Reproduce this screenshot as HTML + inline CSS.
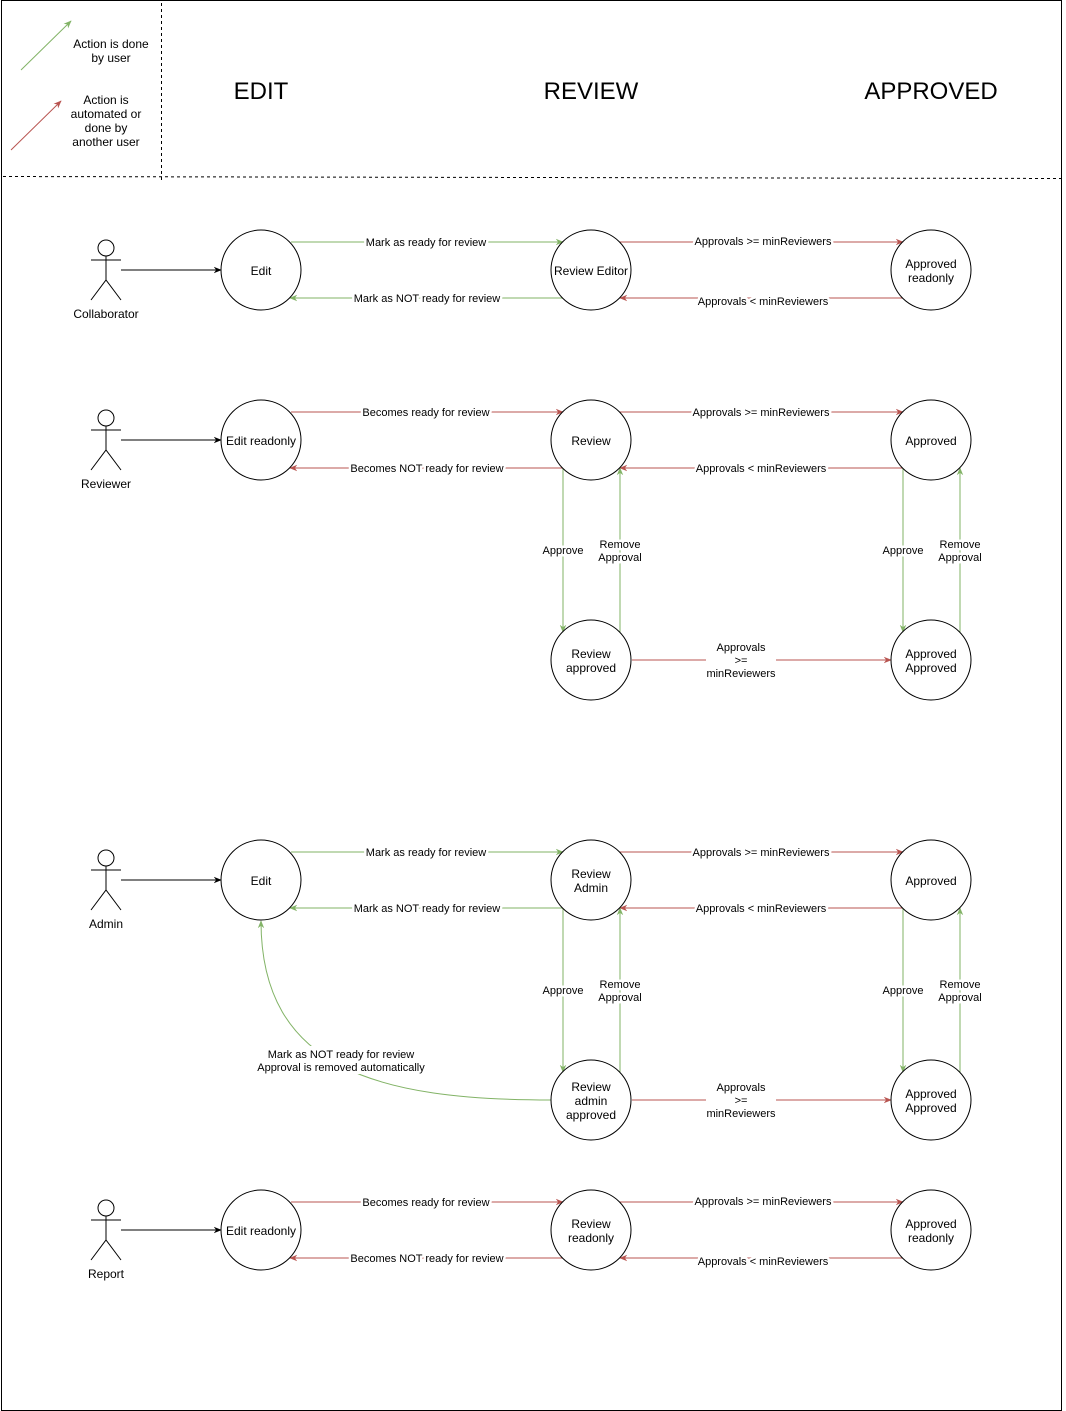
<!DOCTYPE html>
<html><head><meta charset="utf-8"><style>
html,body{margin:0;padding:0;background:#fff;}
svg{display:block;font-family:"Liberation Sans",Arial,sans-serif;}
.n{font-size:12px;fill:#000;text-anchor:middle}
.l{font-size:11px;fill:#000;text-anchor:middle;paint-order:stroke;stroke:#fff;stroke-width:5px;stroke-linejoin:round}
.g{stroke:#82b366;fill:none;stroke-width:1}
.r{stroke:#b85450;fill:none;stroke-width:1}
.c{fill:#fff;stroke:#000;stroke-width:1}
.a{stroke:#000;fill:none;stroke-width:1}
</style></head><body>
<svg width="1066" height="1411" viewBox="0 0 1066 1411" xmlns="http://www.w3.org/2000/svg">
<defs>
<marker id="mg" viewBox="0 0 10 10" refX="9" refY="5" markerWidth="8" markerHeight="8" orient="auto" markerUnits="userSpaceOnUse"><path d="M0,1 L10,5 L0,9 L3,5 z" fill="#82b366"/></marker>
<marker id="mr" viewBox="0 0 10 10" refX="9" refY="5" markerWidth="8" markerHeight="8" orient="auto" markerUnits="userSpaceOnUse"><path d="M0,1 L10,5 L0,9 L3,5 z" fill="#b85450"/></marker>
<marker id="mk" viewBox="0 0 10 10" refX="9" refY="5" markerWidth="8" markerHeight="8" orient="auto" markerUnits="userSpaceOnUse"><path d="M0,1 L10,5 L0,9 L3,5 z" fill="#000"/></marker>
</defs>
<rect x="1.5" y="0.5" width="1060" height="1410" fill="none" stroke="#000"/>
<line x1="3" y1="176.5" x2="1062" y2="178.5" stroke="#000" stroke-dasharray="3,3"/>
<line x1="161.5" y1="3" x2="161.5" y2="180" stroke="#000" stroke-dasharray="3,3"/>
<!-- legend -->
<line x1="21" y1="70" x2="71" y2="21" class="g" marker-end="url(#mg)"/>
<line x1="11" y1="150" x2="61" y2="101" class="r" marker-end="url(#mr)"/>
<text class="n" x="111" y="48">Action is done</text>
<text class="n" x="111" y="62">by user</text>
<text class="n" x="106" y="104">Action is</text>
<text class="n" x="106" y="118">automated or</text>
<text class="n" x="106" y="132">done by</text>
<text class="n" x="106" y="146">another user</text>
<text class="n" style="font-size:24px" x="261" y="99">EDIT</text>
<text class="n" style="font-size:24px" x="591" y="99">REVIEW</text>
<text class="n" style="font-size:24px" x="931" y="99">APPROVED</text>

<!-- actors -->
<g class="a">
<circle cx="106" cy="248" r="8"/><line x1="106" y1="256" x2="106" y2="280"/><line x1="91" y1="260" x2="121" y2="260"/><path d="M91,300 L106,280 L121,300"/>
<line x1="121" y1="270" x2="221" y2="270" marker-end="url(#mk)"/>
<circle cx="106" cy="418" r="8"/><line x1="106" y1="426" x2="106" y2="450"/><line x1="91" y1="430" x2="121" y2="430"/><path d="M91,470 L106,450 L121,470"/>
<line x1="121" y1="440" x2="221" y2="440" marker-end="url(#mk)"/>
<circle cx="106" cy="858" r="8"/><line x1="106" y1="866" x2="106" y2="890"/><line x1="91" y1="870" x2="121" y2="870"/><path d="M91,910 L106,890 L121,910"/>
<line x1="121" y1="880" x2="221" y2="880" marker-end="url(#mk)"/>
<circle cx="106" cy="1208" r="8"/><line x1="106" y1="1216" x2="106" y2="1240"/><line x1="91" y1="1220" x2="121" y2="1220"/><path d="M91,1260 L106,1240 L121,1260"/>
<line x1="121" y1="1230" x2="221" y2="1230" marker-end="url(#mk)"/>
</g>
<text class="n" x="106" y="318">Collaborator</text>
<text class="n" x="106" y="488">Reviewer</text>
<text class="n" x="106" y="928">Admin</text>
<text class="n" x="106" y="1278">Report</text>

<!-- Row 1 -->
<line x1="291" y1="242" x2="563" y2="242" class="g" marker-end="url(#mg)"/>
<line x1="563" y1="298" x2="290" y2="298" class="g" marker-end="url(#mg)"/>
<line x1="620" y1="242" x2="903" y2="242" class="r" marker-end="url(#mr)"/>
<line x1="903" y1="298" x2="620" y2="298" class="r" marker-end="url(#mr)"/>
<text class="l" x="426" y="246">Mark as ready for review</text>
<text class="l" x="427" y="302">Mark as NOT ready for review</text>
<text class="l" x="763" y="245">Approvals &gt;= minReviewers</text>
<text class="l" x="763" y="305">Approvals &lt; minReviewers</text>

<!-- Row 2 -->
<line x1="291" y1="412" x2="563" y2="412" class="r" marker-end="url(#mr)"/>
<line x1="563" y1="468" x2="290" y2="468" class="r" marker-end="url(#mr)"/>
<line x1="620" y1="412" x2="903" y2="412" class="r" marker-end="url(#mr)"/>
<line x1="903" y1="468" x2="620" y2="468" class="r" marker-end="url(#mr)"/>
<text class="l" x="426" y="416">Becomes ready for review</text>
<text class="l" x="427" y="472">Becomes NOT ready for review</text>
<text class="l" x="761" y="416">Approvals &gt;= minReviewers</text>
<text class="l" x="761" y="472">Approvals &lt; minReviewers</text>
<line x1="563" y1="468" x2="563" y2="632" class="g" marker-end="url(#mg)"/>
<line x1="620" y1="632" x2="620" y2="468" class="g" marker-end="url(#mg)"/>
<line x1="903" y1="468" x2="903" y2="632" class="g" marker-end="url(#mg)"/>
<line x1="960" y1="632" x2="960" y2="468" class="g" marker-end="url(#mg)"/>
<text class="l" x="563" y="554">Approve</text>
<text class="l" x="620" y="548">Remove</text><text class="l" x="620" y="561">Approval</text>
<text class="l" x="903" y="554">Approve</text>
<text class="l" x="960" y="548">Remove</text><text class="l" x="960" y="561">Approval</text>
<!-- Row 3 -->
<line x1="632" y1="660" x2="891" y2="660" class="r" marker-end="url(#mr)"/>
<rect x="706" y="638" width="70" height="42" fill="#fff"/>
<text class="l" x="741" y="651">Approvals</text><text class="l" x="741" y="664">&gt;=</text><text class="l" x="741" y="677">minReviewers</text>

<!-- Row 4 -->
<line x1="291" y1="852" x2="563" y2="852" class="g" marker-end="url(#mg)"/>
<line x1="563" y1="908" x2="290" y2="908" class="g" marker-end="url(#mg)"/>
<line x1="620" y1="852" x2="903" y2="852" class="r" marker-end="url(#mr)"/>
<line x1="903" y1="908" x2="620" y2="908" class="r" marker-end="url(#mr)"/>
<text class="l" x="426" y="856">Mark as ready for review</text>
<text class="l" x="427" y="912">Mark as NOT ready for review</text>
<text class="l" x="761" y="856">Approvals &gt;= minReviewers</text>
<text class="l" x="761" y="912">Approvals &lt; minReviewers</text>
<line x1="563" y1="908" x2="563" y2="1072" class="g" marker-end="url(#mg)"/>
<line x1="620" y1="1072" x2="620" y2="908" class="g" marker-end="url(#mg)"/>
<line x1="903" y1="908" x2="903" y2="1072" class="g" marker-end="url(#mg)"/>
<line x1="960" y1="1072" x2="960" y2="908" class="g" marker-end="url(#mg)"/>
<text class="l" x="563" y="994">Approve</text>
<text class="l" x="620" y="988">Remove</text><text class="l" x="620" y="1001">Approval</text>
<text class="l" x="903" y="994">Approve</text>
<text class="l" x="960" y="988">Remove</text><text class="l" x="960" y="1001">Approval</text>
<!-- Row 5 -->
<line x1="632" y1="1100" x2="891" y2="1100" class="r" marker-end="url(#mr)"/>
<rect x="706" y="1078" width="70" height="42" fill="#fff"/>
<text class="l" x="741" y="1091">Approvals</text><text class="l" x="741" y="1104">&gt;=</text><text class="l" x="741" y="1117">minReviewers</text>
<path d="M551,1100 C380,1100 261,1070 261,921" class="g" marker-end="url(#mg)"/>
<rect x="255" y="1046" width="172" height="28" fill="#fff"/>
<text class="l" x="341" y="1058">Mark as NOT ready for review</text>
<text class="l" x="341" y="1071">Approval is removed automatically</text>

<!-- Row 6 -->
<line x1="291" y1="1202" x2="563" y2="1202" class="r" marker-end="url(#mr)"/>
<line x1="563" y1="1258" x2="290" y2="1258" class="r" marker-end="url(#mr)"/>
<line x1="620" y1="1202" x2="903" y2="1202" class="r" marker-end="url(#mr)"/>
<line x1="903" y1="1258" x2="620" y2="1258" class="r" marker-end="url(#mr)"/>
<text class="l" x="426" y="1206">Becomes ready for review</text>
<text class="l" x="427" y="1262">Becomes NOT ready for review</text>
<text class="l" x="763" y="1205">Approvals &gt;= minReviewers</text>
<text class="l" x="763" y="1265">Approvals &lt; minReviewers</text>

<!-- nodes -->
<g class="c">
<circle cx="261" cy="270" r="40" fill="none"/><circle cx="591" cy="270" r="40" fill="none"/><circle cx="931" cy="270" r="40" fill="none"/>
<circle cx="261" cy="440" r="40" fill="none"/><circle cx="591" cy="440" r="40" fill="none"/><circle cx="931" cy="440" r="40" fill="none"/>
<circle cx="591" cy="660" r="40" fill="none"/><circle cx="931" cy="660" r="40" fill="none"/>
<circle cx="261" cy="880" r="40" fill="none"/><circle cx="591" cy="880" r="40" fill="none"/><circle cx="931" cy="880" r="40" fill="none"/>
<circle cx="591" cy="1100" r="40" fill="none"/><circle cx="931" cy="1100" r="40" fill="none"/>
<circle cx="261" cy="1230" r="40" fill="none"/><circle cx="591" cy="1230" r="40" fill="none"/><circle cx="931" cy="1230" r="40" fill="none"/>
</g>
<text class="n" x="261" y="275">Edit</text>
<text class="n" x="591" y="275">Review Editor</text>
<text class="n" x="931" y="268">Approved</text><text class="n" x="931" y="282">readonly</text>
<text class="n" x="261" y="445">Edit readonly</text>
<text class="n" x="591" y="445">Review</text>
<text class="n" x="931" y="445">Approved</text>
<text class="n" x="591" y="658">Review</text><text class="n" x="591" y="672">approved</text>
<text class="n" x="931" y="658">Approved</text><text class="n" x="931" y="672">Approved</text>
<text class="n" x="261" y="885">Edit</text>
<text class="n" x="591" y="878">Review</text><text class="n" x="591" y="892">Admin</text>
<text class="n" x="931" y="885">Approved</text>
<text class="n" x="591" y="1091">Review</text><text class="n" x="591" y="1105">admin</text><text class="n" x="591" y="1119">approved</text>
<text class="n" x="931" y="1098">Approved</text><text class="n" x="931" y="1112">Approved</text>
<text class="n" x="261" y="1235">Edit readonly</text>
<text class="n" x="591" y="1228">Review</text><text class="n" x="591" y="1242">readonly</text>
<text class="n" x="931" y="1228">Approved</text><text class="n" x="931" y="1242">readonly</text>
</svg>
</body></html>
